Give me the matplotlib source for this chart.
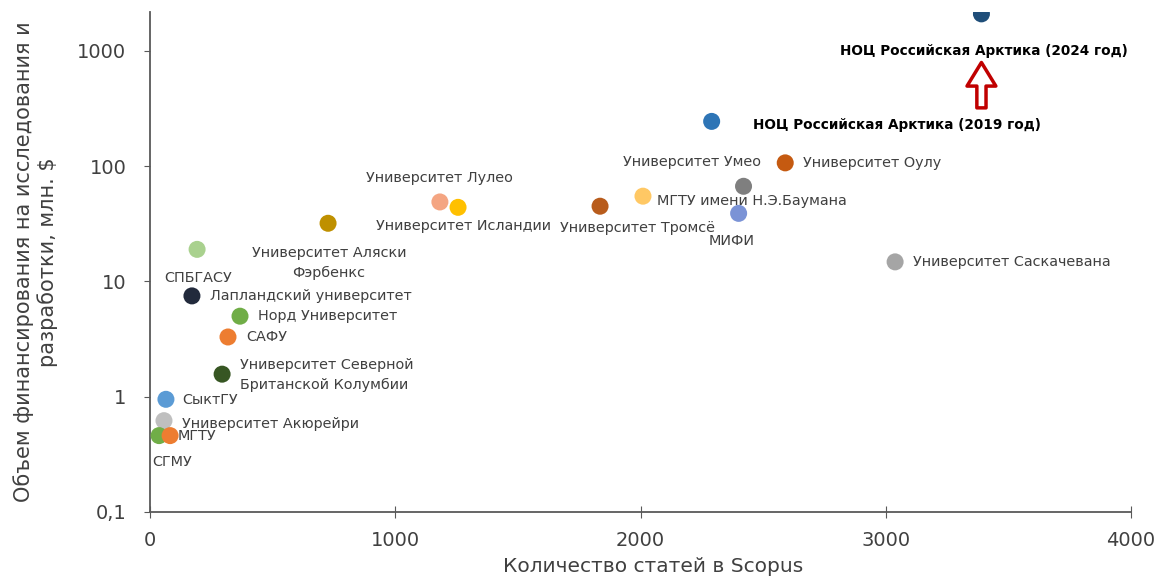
import matplotlib.pyplot as plt
import numpy as np

# данные
names = [
    "НОЦ Российская Арктика (2024 год)", "НОЦ Российская Арктика (2019 год)",
    "Университет Оулу", "Университет Умео", "МГТУ имени Н.Э.Баумана", "МИФИ",
    "Университет Тромсё", "Университет Исландии", "Университет Лулео",
    "Университет Аляски\nФэрбенкс", "СПБГАСУ", "Лапландский университет",
    "Норд Университет", "САФУ", "Университет Северной\nБританской Колумбии",
    "СыктГУ", "Университет Акюрейри", "СГМУ", "МГТУ", "Университет Саскачевана",
]
articles = [3390, 2290, 2590, 2420, 2010, 2400, 1835, 1256, 1182, 726,
            192, 171, 367, 318, 294, 65, 57, 37, 82, 3038]
funding = [2100, 245, 107, 67, 55, 39, 45, 44, 49, 32,
           19, 7.5, 5.0, 3.3, 1.57, 0.95, 0.62, 0.46, 0.46, 14.8]
colors = ["#1f4e79", "#2e75b6", "#c55a11", "#7f7f7f", "#ffc864", "#7b93d6",
          "#b85c1c", "#ffc000", "#f4a582", "#bf9000", "#a9d18e", "#222a3c",
          "#70ad47", "#ed7d31", "#375623", "#5b9bd5", "#bfbfbf", "#70ad47",
          "#ed7d31", "#a5a5a5"]
bold = [True, True] + [False] * 18

# смещения подписей в пикселях: dx, dy, ha
lab_pos = [(2, -37, "center"), (41, -4, "left"), (18, 0, "left"), (17, 24, "right"),
           (14, -5, "left"), (-7, -28, "center"), (37, -22, "center"), (5, -19, "center"),
           (0, 24, "center"), (1, -40, "center"), (1, -29, "center"), (18, 0, "left"),
           (18, 0, "left"), (18, 0, "left"), (18, -1, "left"), (16, -1, "left"),
           (18, -3, "left"), (13, -26, "center"), (8, 0, "left"), (18, 0, "left")]

yticks = [0.1, 1, 10, 100, 1000]
yticklabels = ["0,1", "1", "10", "100", "1000"]
xticks = [0, 1000, 2000, 3000, 4000]

fig = plt.figure(figsize=(11.61, 5.85), dpi=100)
ax = fig.add_axes([0.1292, 0.1248, 0.845, 0.8547])

ax.scatter(articles, funding, s=150, c=colors, edgecolors="none", zorder=3)

for i, name in enumerate(names):
    dx, dy, ha = lab_pos[i]
    ax.annotate(name, (articles[i], funding[i]), xytext=(dx, dy),
                textcoords="offset pixels", ha=ha, va="center",
                fontsize=9.8 if bold[i] else 10.4, linespacing=1.55,
                fontweight="bold" if bold[i] else "normal",
                color="black" if bold[i] else "#404040", zorder=4)

# красная стрелка к НОЦ 2024
ax.annotate("", xy=(articles[0], funding[0]), xycoords="data",
            xytext=(0, -94), textcoords="offset pixels",
            arrowprops=dict(arrowstyle="simple,head_width=1.04,head_length=0.85,tail_width=0.33",
                            mutation_scale=20, fc="white", ec="#c00000", lw=2.5,
                            shrinkA=0, shrinkB=35))

ax.set_yscale("log")
ax.set_ylim(0.1, 2180)
ax.set_xlim(0, 4000)
ax.set_yticks(yticks)
ax.set_yticklabels(yticklabels)
ax.yaxis.set_minor_locator(plt.NullLocator())
ax.set_xticks(xticks)

for sp in ["top", "right"]:
    ax.spines[sp].set_visible(False)
for sp in ["left", "bottom"]:
    ax.spines[sp].set_color("#595959")
    ax.spines[sp].set_linewidth(1.3)

ax.tick_params(axis="y", direction="out", length=4, color="#595959",
               labelsize=14, labelcolor="#404040", pad=13)
ax.tick_params(axis="x", direction="inout", length=8, color="#595959",
               labelsize=14, labelcolor="#404040", pad=10)

ax.set_xlabel("Количество статей в Scopus", fontsize=14.5, color="#404040",
              labelpad=5, x=0.513)
ax.set_ylabel("Объем финансирования на исследования и\nразработки, млн. $",
              fontsize=15, color="#404040", labelpad=14, y=0.5)

fig.savefig("out.png", dpi=100)
